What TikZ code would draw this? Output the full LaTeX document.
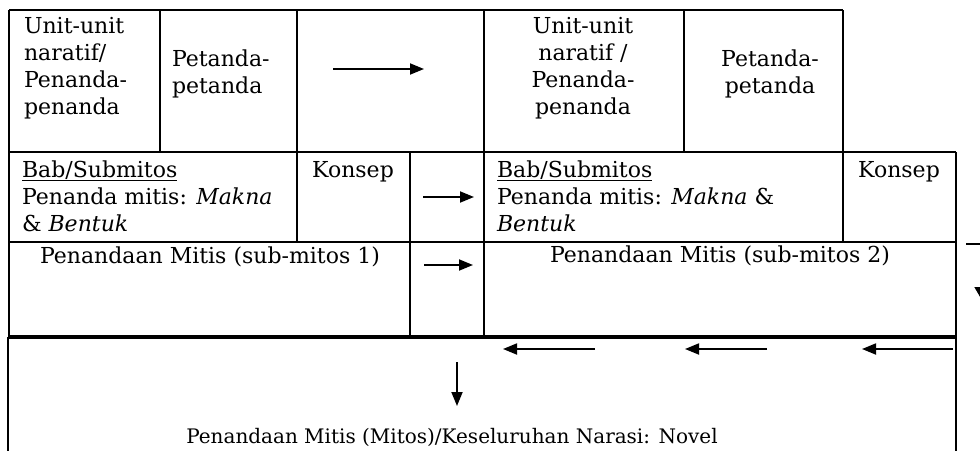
\documentclass[tikz,border=0pt]{standalone}
\usepackage{fontspec}
\setmainfont{DejaVu Serif}
\usetikzlibrary{arrows.meta}
\begin{document}
\begin{tikzpicture}[x=1pt,y=-1pt,
  grid/.style={line width=1.1pt,black},
  thickbox/.style={line width=2pt,black},
  txt/.style={inner sep=0pt,outer sep=0pt,font=\fontsize{22}{27}\selectfont},
  lft/.style={txt,anchor=base west},
  ctr/.style={txt,anchor=base},
  arr/.style={line width=1.8pt,-{Triangle[length=14pt,width=11pt]}},
  bigarr/.style={line width=1.8pt,-{Triangle[length=15pt,width=17pt]}}]
\useasboundingbox (0,0) rectangle (980,450);
\fill[white] (0,0) rectangle (980,450);
% ---- table grid ----
\draw[grid] (9,10) -- (843,10);
\foreach \x in {9,160,297,484,684,843} \draw[grid] (\x,10) -- (\x,152);
\draw[grid] (9,152) -- (956,152);
\foreach \x in {9,297,410,484,843,956} \draw[grid] (\x,152) -- (\x,242);
\draw[grid] (9,242) -- (956,242);
\foreach \x in {9,410,484,956} \draw[grid] (\x,242) -- (\x,337);
\draw[grid] (9,336) -- (956,336);
% ---- bottom box ----
\draw[thickbox] (8,460) -- (8,338) -- (956,338) -- (956,460);
% ---- row 1 texts ----
\node[lft] (u1a) at (24,33) {Unit-unit};
\node[lft] (u1b) at (24,60) {naratif/};
\node[lft] (u1c) at (24,87) {Penanda-};
\node[lft] (u1d) at (24,114) {penanda};
\node[lft] (p1a) at (172,66) {Petanda-};
\node[lft] (p1b) at (172,93) {petanda};
\node[ctr] (u2a) at (583,33) {Unit-unit};
\node[ctr] (u2b) at (583,60) {naratif /};
\node[ctr] (u2c) at (583,87) {Penanda-};
\node[ctr] (u2d) at (583,114) {penanda};
\node[ctr] (p2a) at (770,66) {Petanda-};
\node[ctr] (p2b) at (770,93) {petanda};
% ---- row 2 texts ----
\node[lft] (b1a) at (22,177) {\underline{Bab/Submitos}};
\node[lft] (b1b) at (22,204) {Penanda mitis: \textit{Makna}};
\node[lft] (b1c) at (22,231) {\& \textit{Bentuk}};
\node[ctr] (k1) at (353,177) {Konsep};
\node[lft] (b2a) at (497,177) {\underline{Bab/Submitos}};
\node[lft] (b2b) at (497,204) {Penanda mitis: \textit{Makna} \&};
\node[lft] (b2c) at (497,231) {\textit{Bentuk}};
\node[ctr] (k2) at (899,177) {Konsep};
% ---- row 3 texts ----
\node[ctr] (m1) at (210,263) {Penandaan Mitis (sub-mitos 1)};
\node[ctr] (m2) at (720,262) {Penandaan Mitis (sub-mitos 2)};
% ---- bottom text ----
\node[ctr,font=\fontsize{20}{24}\selectfont] (mt) at (452,443) {Penandaan Mitis (Mitos)/Keseluruhan Narasi: Novel};
% ---- arrows ----
\coordinate (a1s) at (333,69);  \coordinate (a1e) at (424,69);
\coordinate (a2s) at (423,197); \coordinate (a2e) at (474,197);
\coordinate (a3s) at (424,265); \coordinate (a3e) at (473,265);
\coordinate (l1s) at (595,349); \coordinate (l1e) at (503,349);
\coordinate (l2s) at (767,349); \coordinate (l2e) at (685,349);
\coordinate (l3s) at (953,349); \coordinate (l3e) at (862,349);
\coordinate (ds) at (457,362);  \coordinate (de) at (457,406);
\coordinate (os) at (966,244);  \coordinate (oc) at (983,244); \coordinate (oe) at (983,302);
\draw[arr] (a1s) -- (a1e);
\draw[arr] (a2s) -- (a2e);
\draw[arr] (a3s) -- (a3e);
\draw[arr] (l1s) -- (l1e);
\draw[arr] (l2s) -- (l2e);
\draw[arr] (l3s) -- (l3e);
\draw[arr] (ds) -- (de);
\draw[bigarr] (os) -- (oc) -- (oe);
\end{tikzpicture}
\end{document}
